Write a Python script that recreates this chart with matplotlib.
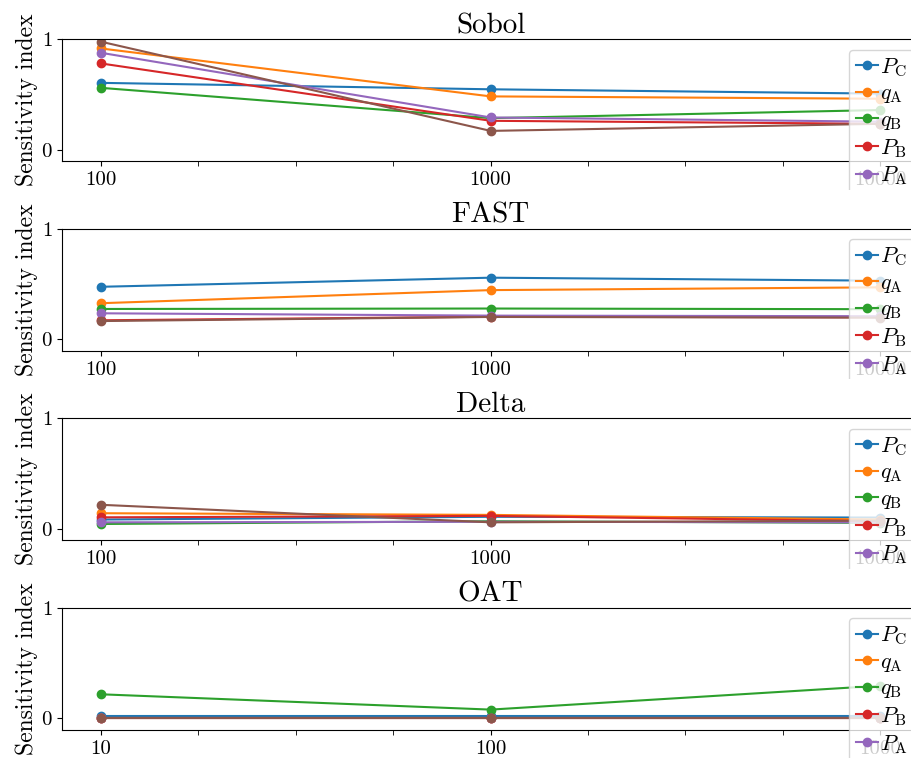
import matplotlib
matplotlib.use("Agg")
import matplotlib.pyplot as plt
from matplotlib.ticker import MultipleLocator

plt.rcParams["font.family"] = ["cmr10", "DejaVu Serif"]
plt.rcParams["mathtext.fontset"] = "cm"
plt.rcParams["axes.formatter.use_mathtext"] = True

labels = [r"$P_\mathrm{C}$", r"$q_\mathrm{A}$", r"$q_\mathrm{B}$",
          r"$P_\mathrm{B}$", r"$P_\mathrm{A}$", r"$q_\mathrm{C}$"]

titles = ["Sobol", "FAST", "Delta", "OAT"]
sample_ticks = [["100", "1000", "10000"],
                ["100", "1000", "10000"],
                ["100", "1000", "10000"],
                ["10", "100", "1000"]]

# one row per parameter, one column per sample size
sobol = [[0.605, 0.547, 0.508],
         [0.915, 0.483, 0.462],
         [0.560, 0.287, 0.360],
         [0.780, 0.263, 0.236],
         [0.876, 0.293, 0.255],
         [0.976, 0.172, 0.236]]
fast = [[0.475, 0.557, 0.530],
        [0.327, 0.445, 0.470],
        [0.275, 0.279, 0.273],
        [0.173, 0.205, 0.200],
        [0.236, 0.215, 0.210],
        [0.166, 0.203, 0.197]]
delta = [[0.085, 0.110, 0.103],
         [0.142, 0.127, 0.085],
         [0.045, 0.070, 0.055],
         [0.105, 0.118, 0.070],
         [0.060, 0.065, 0.060],
         [0.218, 0.060, 0.075]]
oat = [[0.020, 0.020, 0.020],
       [0.002, 0.002, 0.002],
       [0.218, 0.080, 0.295],
       [0.002, 0.002, 0.002],
       [0.001, 0.001, 0.001],
       [0.004, 0.004, 0.004]]
results = [sobol, fast, delta, oat]

fig = plt.figure(figsize=(9.12, 7.58), dpi=100)
subfigs = fig.subfigures(4, 1)

for sf, title, ticks, data in zip(subfigs, titles, sample_ticks, results):
    sf.set_facecolor("white")
    ax = sf.add_axes([0.068, 0.15, 0.94, 0.644])
    xs = range(len(ticks))
    for vals, lab in zip(data, labels):
        ax.plot(xs, vals, marker="o", label=lab)
    ax.set_xlim(-0.1, 2.1)
    ax.set_ylim(-0.1, 1.0)
    ax.set_xticks(list(xs))
    ax.set_xticklabels(ticks)
    ax.xaxis.set_minor_locator(MultipleLocator(0.25))
    ax.tick_params(axis="x", which="minor", length=3.5)
    ax.set_yticks([0, 1])
    ax.tick_params(labelsize=15)
    ax.tick_params(axis="x", pad=4)
    ax.set_title(title, fontsize=21, pad=2)
    ax.set_ylabel("Sensitivity index", fontsize=17, labelpad=2)
    ax.legend(loc="upper left", bbox_to_anchor=(0.918, 0.914),
              borderaxespad=0, fontsize=16, handlelength=1.0,
              handletextpad=0.1, labelspacing=0.22, borderpad=0.3)

fig.savefig("out.png", dpi=100)
